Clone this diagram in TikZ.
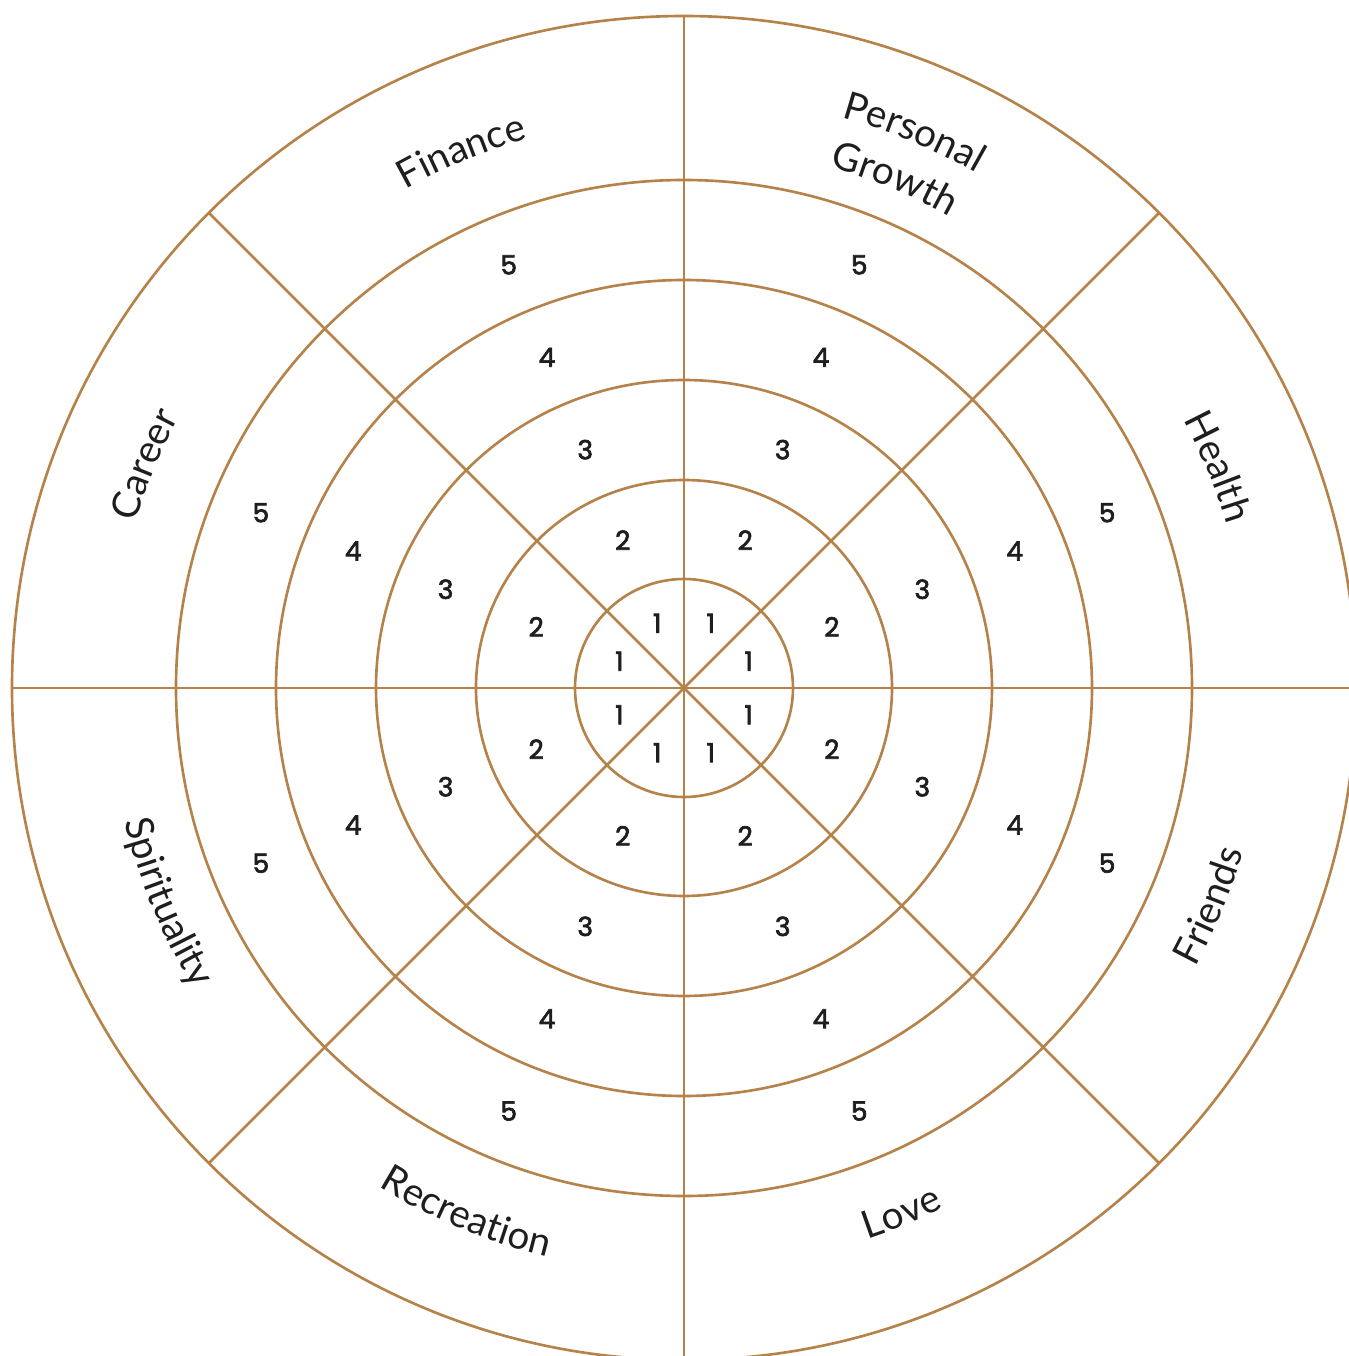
\documentclass[tikz,border=0pt]{standalone}
\usepackage{fontspec}
\usepackage{tikz}
\usetikzlibrary{decorations.text}
\newfontfamily\areafont{Lato}
\newfontfamily\numfont{Poppins}[FakeBold=2.5]
\definecolor{wheelline}{HTML}{B5824A}
\definecolor{wheeltext}{HTML}{1E1E1E}
\tikzstyle{ring} = [draw=wheelline, line width=1.5pt]
\tikzstyle{score} = [font=\numfont\fontsize{15}{15}\selectfont, text=wheeltext, inner sep=0pt]
\tikzstyle{arealabel} = [decorate, decoration={text along path, text align=center, text color=wheeltext}]
\newcommand{\areasize}{\areafont\fontsize{22}{22}\selectfont}

\begin{document}
\begin{tikzpicture}[x=0.02cm, y=0.02cm]
\useasboundingbox (-684,-668) rectangle (665,688);
\clip (-684,-668) rectangle (665,688);
\coordinate (hub) at (0,0);

% rings and spokes
\foreach \rr in {109,208,308,408,508,672}
  \draw[ring] (hub) circle[radius=\rr];
\foreach \k in {0,...,7}
  \draw[ring] (hub) -- ({45*\k}:672);

% scores
\foreach \n/\rad in {1/70,2/160,3/258,4/358,5/458}
  \foreach \k in {0,...,7}
    \node[score] (s\n-\k) at ({22.5+45*\k}:\rad) {\n};

% life areas, upper half (clockwise, letters outward)
\path[arealabel, decoration={text={|\areasize|Finance}}]
  (142.5:571) arc[start angle=142.5, end angle=82.5, radius=571];
\path[arealabel, decoration={text={|\areasize|Personal}}]
  (97.5:592) arc[start angle=97.5, end angle=37.5, radius=592];
\path[arealabel, decoration={text={|\areasize|Growth}}]
  (97.5:541) arc[start angle=97.5, end angle=37.5, radius=541];
\path[arealabel, decoration={text={|\areasize|Health}}]
  (52.5:567) arc[start angle=52.5, end angle=-7.5, radius=567];
\path[arealabel, decoration={text={|\areasize|Career}}]
  (-172.5:573) arc[start angle=-172.5, end angle=-232.5, radius=573];

% life areas, lower half (counterclockwise, letters inward)
\path[arealabel, decoration={text={|\areasize|Friends}}]
  (-52.5:583) arc[start angle=-52.5, end angle=7.5, radius=583];
\path[arealabel, decoration={text={|\areasize|Love}}]
  (-97.5:581) arc[start angle=-97.5, end angle=-37.5, radius=581];
\path[arealabel, decoration={text={|\areasize|Recreation}}]
  (-142.5:585) arc[start angle=-142.5, end angle=-82.5, radius=585];
\path[arealabel, decoration={text={|\areasize|Spirituality}}]
  (-187.5:575) arc[start angle=-187.5, end angle=-127.5, radius=575];
\end{tikzpicture}
\end{document}
